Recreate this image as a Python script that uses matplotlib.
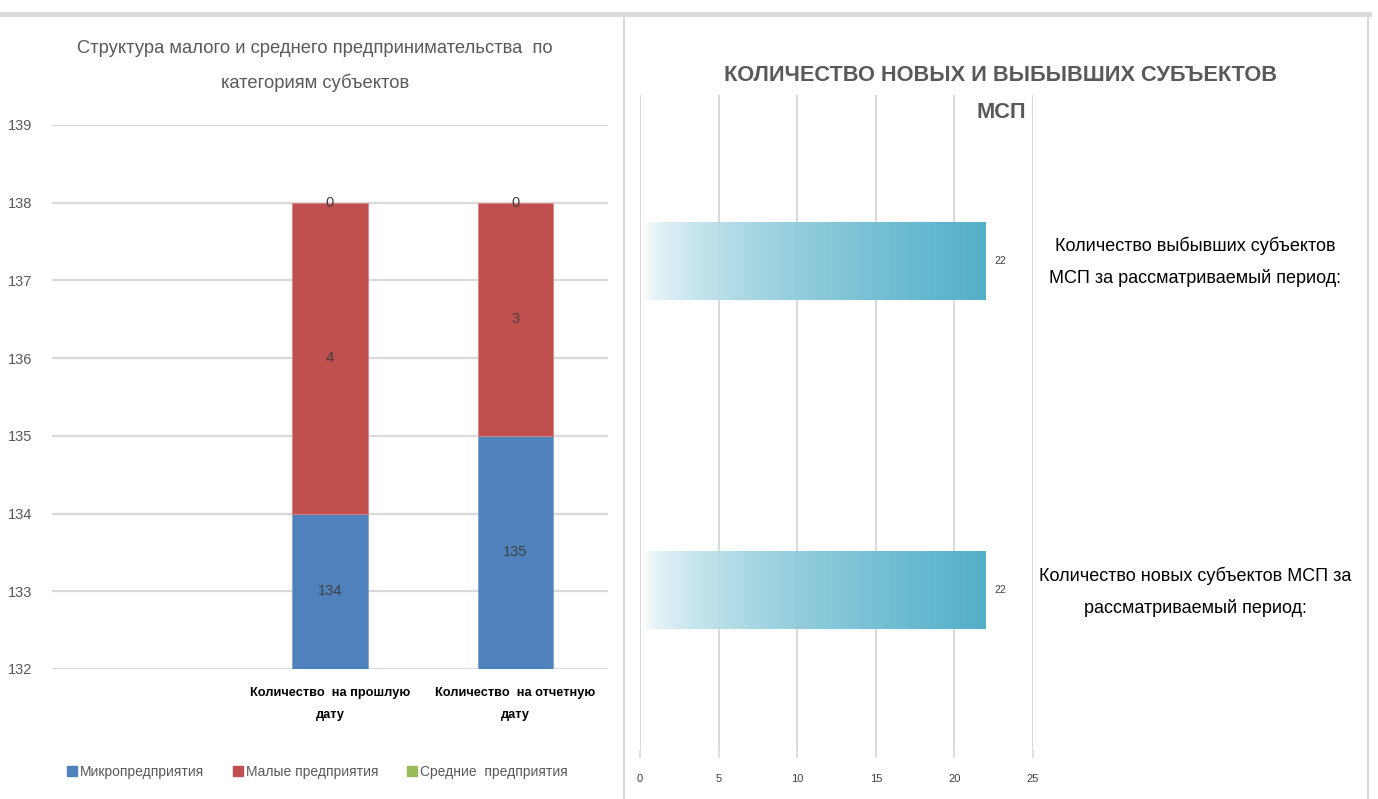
"""Two-panel SME dashboard: stacked structure bars and new/closed counts."""

import matplotlib.pyplot as plt
import numpy as np
from matplotlib.colors import to_rgb
from matplotlib.lines import Line2D

# left panel data
CATEGORIES = ["", "Количество  на прошлую\nдату", "Количество  на отчетную\nдату"]
MICRO = [134, 135]
SMALL = [4, 3]
MEDIUM = [0, 0]
SERIES_NAMES = ["Микропредприятия", "Малые предприятия", "Средние  предприятия"]
Y_TICKS = [132, 133, 134, 135, 136, 137, 138, 139]

# right panel data
FLOW_LABELS = [
    "Количество новых субъектов МСП за\nрассматриваемый период:",
    "Количество выбывших субъектов\nМСП за рассматриваемый период:",
]
FLOW_VALUES = [22, 22]
X_TICKS = [0, 5, 10, 15, 20, 25]

BLUE = "#4f81bd"
RED = "#c0504d"
GREEN = "#9bbb59"
TEAL = "#4bacc6"
GRID = "#d9d9d9"
TITLE_GRAY = "#595959"
LABEL_GRAY = "#404040"


def configure_matplotlib() -> None:
    plt.rcParams["font.family"] = ["Liberation Sans", "DejaVu Sans"]
    plt.rcParams["axes.unicode_minus"] = False


def hide_spines(ax) -> None:
    for side in ["top", "right", "left", "bottom"]:
        ax.spines[side].set_visible(False)


def plot_structure(fig) -> None:
    ax = fig.add_axes([52 / 1378, 130 / 799, 556 / 1378, 544 / 799])
    positions = np.arange(len(CATEGORIES))[1:]
    micro = np.array(MICRO)
    small = np.array(SMALL)
    medium = np.array(MEDIUM)
    width = 0.405
    bars_micro = ax.bar(positions, micro - Y_TICKS[0], bottom=Y_TICKS[0], width=width,
                        color=BLUE, edgecolor="#7fa3d0", linewidth=0.6)
    bars_small = ax.bar(positions, small, bottom=micro, width=width,
                        color=RED, edgecolor="#d88583", linewidth=0.6)
    bars_medium = ax.bar(positions, medium, bottom=micro + small, width=width,
                         color=GREEN, linewidth=0)
    for bars, values in [(bars_micro, micro), (bars_small, small), (bars_medium, medium)]:
        ax.bar_label(bars, labels=[str(v) for v in values], label_type="center",
                     fontsize=10.5, color=LABEL_GRAY)

    ax.set_xlim(-0.5, len(CATEGORIES) - 0.5)
    ax.set_ylim(Y_TICKS[0], Y_TICKS[-1])
    ax.set_yticks(Y_TICKS)
    ax.set_xticks(np.arange(len(CATEGORIES)))
    ax.set_xticklabels(CATEGORIES, fontsize=9.2, fontweight="bold", color="black",
                       linespacing=2.1)
    ax.tick_params(axis="y", length=0, pad=14, labelsize=10.5, labelcolor=TITLE_GRAY)
    ax.tick_params(axis="x", length=0, pad=13)
    ax.grid(axis="y", color=GRID, linewidth=1.6)
    ax.set_axisbelow(True)
    hide_spines(ax)

    fig.text(315 / 1378, 1 - 66 / 799,
             "Структура малого и среднего предпринимательства  по\nкатегориям субъектов",
             ha="center", va="center", fontsize=13.2, color=TITLE_GRAY, linespacing=2.1)

    handles = [Line2D([], [], marker="s", linestyle="none", markersize=7, color=c)
               for c in [BLUE, RED, GREEN]]
    fig.legend(handles, SERIES_NAMES, loc="center", bbox_to_anchor=(317 / 1378, 1 - 772 / 799),
               ncol=3, frameon=False, fontsize=10, labelcolor=TITLE_GRAY,
               handletextpad=0.2, columnspacing=2.0, handlelength=0.8)


def plot_flows(fig) -> None:
    ax = fig.add_axes([640 / 1378, 49 / 799, 393 / 1378, 655 / 799])
    positions = np.arange(len(FLOW_VALUES))
    height = 0.237

    teal = np.array(to_rgb(TEAL))
    t = np.linspace(0, 1, 256) ** 0.6
    gradient = np.ones((1, 256, 4))
    gradient[0, :, :3] = (1 - t)[:, None] * np.ones(3) + t[:, None] * teal
    gradient[0, :, 3] = 0.96

    for pos, value in zip(positions, FLOW_VALUES):
        ax.imshow(gradient, extent=[0.2, value, pos - height / 2, pos + height / 2],
                  aspect="auto", interpolation="bilinear", zorder=2)
        ax.text(value + 0.55, pos, str(value), ha="left", va="center",
                fontsize=7.5, color=LABEL_GRAY)

    ax.set_xlim(X_TICKS[0], X_TICKS[-1])
    ax.set_ylim(-0.486, 1.505)
    ax.set_xticks(X_TICKS)
    ax.set_yticks([])
    ax.tick_params(axis="x", length=6, width=1.2, color=GRID, pad=11,
                   labelsize=8, labelcolor=LABEL_GRAY)
    ax.grid(axis="x", color=GRID, linewidth=1.4)
    ax.set_axisbelow(True)
    hide_spines(ax)

    label_y = [1 - 592 / 799, 1 - 262 / 799]
    for y, label in zip(label_y, FLOW_LABELS):
        fig.text(1195 / 1378, y, label, ha="center", va="center", fontsize=13,
                 color="black", linespacing=2.0)

    fig.text(1001 / 1378, 1 - 94 / 799, "КОЛИЧЕСТВО НОВЫХ И ВЫБЫВШИХ СУБЪЕКТОВ\nМСП",
             ha="center", va="center", fontsize=15.7, fontweight="bold", color=TITLE_GRAY,
             linespacing=2.05)


def draw_frame(fig) -> None:
    fig.add_artist(Line2D([0, 1369 / 1378], [1 - 13.5 / 799] * 2, color=GRID, linewidth=3.6))
    fig.add_artist(Line2D([624 / 1378] * 2, [0, 1 - 16 / 799], color=GRID, linewidth=1.6))
    fig.add_artist(Line2D([1368 / 1378] * 2, [0, 1 - 16 / 799], color=GRID, linewidth=1.6))


def main() -> None:
    configure_matplotlib()
    fig = plt.figure(figsize=(13.78, 7.99), dpi=100)
    plot_structure(fig)
    plot_flows(fig)
    draw_frame(fig)
    fig.savefig("out.png", dpi=100)
    plt.close(fig)


if __name__ == "__main__":
    main()
